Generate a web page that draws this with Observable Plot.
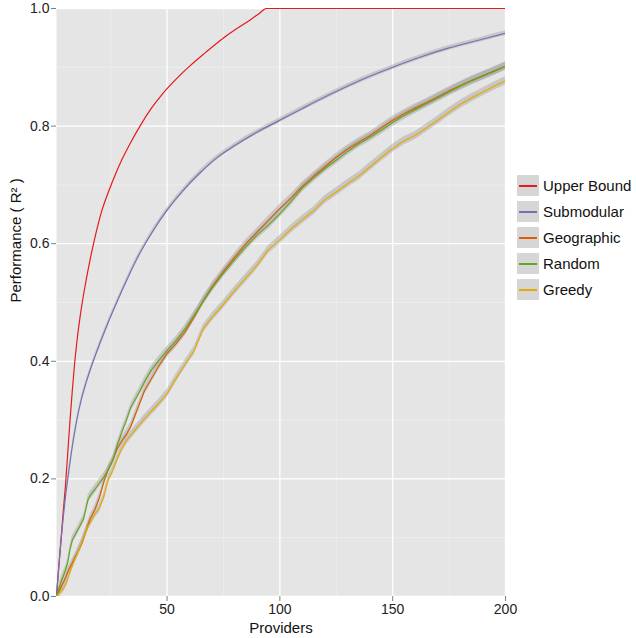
<!DOCTYPE html>
<html><head><meta charset="utf-8">
<script src="https://cdn.jsdelivr.net/npm/d3@7"></script>
<script src="https://cdn.jsdelivr.net/npm/@observablehq/plot@0.6"></script>
<style>
body{margin:0;background:#fff;font-family:"Liberation Sans",Arial,sans-serif;}
#wrap{position:relative;width:636px;height:638px;}
#legend{position:absolute;left:517px;top:172px;}
.row{display:flex;align-items:center;height:26px;}
.key{width:22px;height:21px;background:#D6D6D6;position:relative;margin-right:4px;flex:none}
.key span{position:absolute;left:2px;right:2px;top:10px;height:2px}
.lab{font-size:15px;color:#111;white-space:nowrap}
</style></head><body><div id="wrap"><div id="legend"></div></div>
<script>
// ---- data ----
const seriesNames = ["Upper Bound", "Submodular", "Geographic", "Random", "Greedy"];
const seriesColors = ["#E41A1C", "#7570B3", "#D95F02", "#66A61E", "#E6AB02"];

const upperBoundX = [1,2,3,4,5,6,7,8,9,10,12,14,16,18,21,24,27,30,34,38,43,48,54,60,67,75,81,87,91,94,200];
const upperBoundY = [0,0.05,0.095,0.145,0.19,0.245,0.30,0.35,0.395,0.432,0.49,0.535,0.575,0.61,0.655,0.688,0.717,0.743,0.773,0.80,0.83,0.855,0.88,0.902,0.925,0.95,0.966,0.981,0.992,1.0,1.0];

const submodularX = [1,2,3,4,5,6,8,10,12,14,17,20,24,27,32,37,43,50,57,65,72,80,90,99,110,124,137,150,162,175,188,200];
const submodularY = [0,0.05,0.095,0.135,0.17,0.2,0.255,0.30,0.335,0.362,0.397,0.428,0.467,0.494,0.537,0.577,0.617,0.657,0.69,0.722,0.746,0.767,0.79,0.808,0.83,0.857,0.88,0.90,0.917,0.933,0.946,0.958];

const providers = [1,2,3,4,5,6,7,8,9,10,11,12,13,14,15,16,17,18,20,22,24,26,28,30,32,34,36,38,40,43,46,50,54,58,62,66,70,75,80,85,90,95,100,105,110,115,120,125,130,135,140,145,150,155,160,165,170,175,180,185,190,195,200];
const geographicY = [0,0.008,0.016,0.024,0.032,0.042,0.05,0.057,0.065,0.072,0.08,0.088,0.098,0.11,0.122,0.133,0.14,0.148,0.168,0.195,0.217,0.232,0.252,0.265,0.276,0.29,0.31,0.33,0.35,0.37,0.39,0.413,0.43,0.45,0.475,0.503,0.527,0.553,0.577,0.60,0.62,0.64,0.66,0.678,0.698,0.715,0.731,0.747,0.761,0.773,0.784,0.797,0.81,0.821,0.831,0.84,0.85,0.86,0.869,0.878,0.886,0.894,0.902];
const randomY = [0,0.012,0.025,0.035,0.045,0.058,0.08,0.096,0.103,0.11,0.117,0.125,0.132,0.148,0.165,0.172,0.177,0.182,0.193,0.203,0.216,0.232,0.258,0.28,0.30,0.322,0.336,0.35,0.365,0.385,0.40,0.418,0.435,0.455,0.478,0.502,0.525,0.55,0.573,0.595,0.615,0.632,0.651,0.672,0.695,0.712,0.728,0.742,0.757,0.77,0.781,0.793,0.806,0.818,0.828,0.838,0.848,0.858,0.868,0.877,0.885,0.893,0.902];
const greedyY = [0,0.004,0.01,0.014,0.02,0.03,0.042,0.052,0.062,0.07,0.08,0.09,0.10,0.11,0.119,0.126,0.133,0.14,0.15,0.17,0.20,0.215,0.235,0.252,0.265,0.275,0.284,0.293,0.302,0.315,0.327,0.345,0.371,0.395,0.418,0.455,0.475,0.497,0.52,0.542,0.564,0.59,0.607,0.625,0.641,0.656,0.675,0.688,0.702,0.715,0.731,0.747,0.762,0.775,0.784,0.797,0.81,0.824,0.837,0.848,0.858,0.868,0.877];

// half-width of the grey confidence band around each line
const bandHalfWidth = {"Upper Bound": 0, "Submodular": 0.004, "Geographic": 0.007, "Random": 0.007, "Greedy": 0.007};

const xTicks = [50, 100, 150, 200];
const xMinor = [25, 75, 125, 175];
const yTicks = [0, 0.2, 0.4, 0.6, 0.8, 1.0];
const yMinor = [0.1, 0.3, 0.5, 0.7, 0.9];
const xTitle = "Providers";
const yTitle = "Performance ( R\u00B2 )";

// ---- build table ----
const rows = [];
function add(name, xs, ys) { xs.forEach((x, i) => rows.push({series: name, x, y: ys[i]})); }
add("Upper Bound", upperBoundX, upperBoundY);
add("Submodular", submodularX, submodularY);
add("Geographic", providers, geographicY);
add("Random", providers, randomY);
add("Greedy", providers, greedyY);

const smoothSeries = new Set(["Upper Bound", "Submodular"]);
const smoothRows = rows.filter(d => smoothSeries.has(d.series));
const noisyRows = rows.filter(d => !smoothSeries.has(d.series));
const bandRows = rows.filter(d => bandHalfWidth[d.series] > 0);
const bandSmooth = bandRows.filter(d => smoothSeries.has(d.series));
const bandNoisy = bandRows.filter(d => !smoothSeries.has(d.series));

const bandOpts = (curve) => ({x: "x", y1: d => d.y - bandHalfWidth[d.series], y2: d => d.y + bandHalfWidth[d.series], z: "series", fill: "#999999", fillOpacity: 0.4, curve, clip: true});

const chart = Plot.plot({
  width: 636,
  height: 638,
  marginLeft: 56,
  marginRight: 131,
  marginTop: 8,
  marginBottom: 42,
  style: {fontFamily: "'Liberation Sans', Arial, sans-serif", fontSize: "14px", background: "white", overflow: "visible"},
  x: {domain: [1, 200]},
  y: {domain: [0, 1]},
  color: {domain: seriesNames, range: seriesColors},
  marks: [
    Plot.frame({fill: "#E5E5E5", stroke: null}),
    Plot.gridX(xMinor, {stroke: "#F2F2F2", strokeOpacity: 1, strokeWidth: 0.6}),
    Plot.gridY(yMinor, {stroke: "#F2F2F2", strokeOpacity: 1, strokeWidth: 0.6}),
    Plot.gridX(xTicks, {stroke: "#FFFFFF", strokeOpacity: 1, strokeWidth: 1.3}),
    Plot.gridY(yTicks, {stroke: "#FFFFFF", strokeOpacity: 1, strokeWidth: 1.3}),
    Plot.areaY(bandSmooth, bandOpts("monotone-x")),
    Plot.areaY(bandNoisy, bandOpts("linear")),
    Plot.line(smoothRows, {x: "x", y: "y", z: "series", stroke: "series", strokeWidth: 1.2, curve: "monotone-x", clip: true}),
    Plot.line(noisyRows, {x: "x", y: "y", z: "series", stroke: "series", strokeWidth: 1.2, clip: true}),
    Plot.axisX(xTicks, {tickSize: 5, tickPadding: 3, fontSize: 14, stroke: "#7F7F7F", fill: "#222", label: null}),
    Plot.axisY(yTicks, {tickSize: 5, tickPadding: 2, fontSize: 14, stroke: "#7F7F7F", fill: "#222", tickFormat: d3.format(".1f"), label: null}),
    Plot.text([xTitle], {text: d => d, frameAnchor: "bottom", lineAnchor: "middle", dy: 32, fontSize: 15, fill: "#111"}),
    Plot.text([yTitle], {text: d => d, frameAnchor: "left", lineAnchor: "middle", dx: -40, rotate: -90, fontSize: 15, fill: "#111"})
  ]
});
document.getElementById("wrap").prepend(chart);

const legend = document.getElementById("legend");
seriesNames.forEach((name, i) => {
  const row = document.createElement("div");
  row.className = "row";
  row.innerHTML = `<div class="key"><span style="background:${seriesColors[i]}"></span></div><div class="lab">${name}</div>`;
  legend.appendChild(row);
});
</script>
</body></html>
